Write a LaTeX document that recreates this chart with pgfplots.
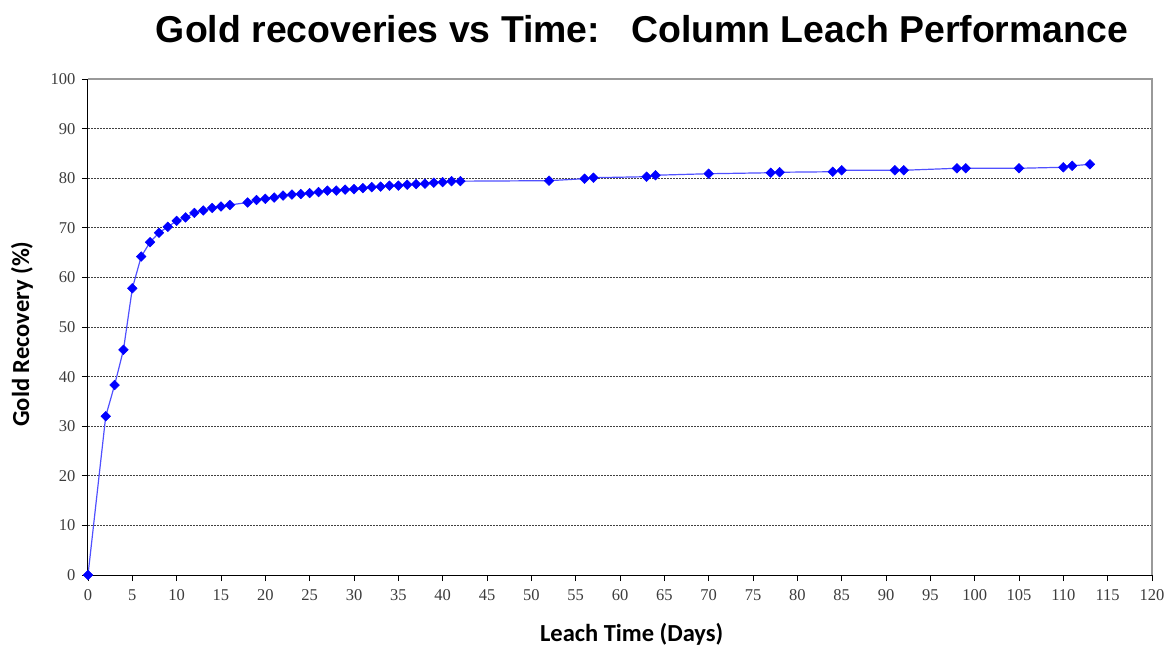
\documentclass[border=0pt]{standalone}
\usepackage{pgfplots}
\pgfplotsset{compat=1.18}
\usepackage{fontspec}
\setmainfont{Liberation Sans}
\newfontfamily\tickfont{Liberation Serif}
\newfontfamily\labfont{Carlito}
\definecolor{ptblue}{RGB}{0,0,255}
\definecolor{lineblue}{RGB}{80,80,255}
\definecolor{tickgray}{RGB}{60,60,60}
\begin{document}
\begin{tikzpicture}[x=1pt,y=1pt]
\path[use as bounding box] (-88,-71) rectangle (1081,575);
\begin{axis}[
  at={(0,0)}, anchor=south west,
  scale only axis,
  width=1064pt, height=496pt,
  xmin=0, xmax=120, ymin=0, ymax=100,
  xtick={0,5,...,120}, ytick={0,10,...,100},
  extra y ticks={10,20,...,90},
  extra y tick labels={},
  extra y tick style={grid=major, major tick length=0pt},
  axis x line*=bottom, axis y line*=left,
  axis line style={black, line width=1pt, -},
  tick align=outside,
  major tick length=6pt,
  tick style={black, line width=0.8pt},
  grid style={black!75, dash pattern=on 2pt off 1pt, line width=0.9pt},
  /pgf/number format/assume math mode=true,
  ticklabel style={font=\tickfont\fontsize{16.5}{16.5}\selectfont, text=tickgray},
  xticklabel style={yshift=-5pt},
  yticklabel style={xshift=-3pt},
  xlabel={\labfont\bfseries Leach Time (Days)},
  ylabel={\labfont\bfseries Gold Recovery (\%)},
  label style={font=\fontsize{24.5}{24.5}\selectfont},
  xlabel style={at={(rel axis cs:0.511,0)}, anchor=center, yshift=-59pt},
  ylabel style={at={(rel axis cs:0,0.5)}, anchor=center, yshift=66pt, xshift=-7pt},
  clip=false,
]
\addplot[color=lineblue, line width=1.2pt, mark=square*, mark size=3.4pt,
  mark options={fill=ptblue, draw=ptblue, line width=0.5pt, rotate=45}] coordinates {
(0,0) (2,32.0) (3,38.3) (4,45.4) (5,57.8) (6,64.2) (7,67.1) (8,69.0) (9,70.2)
(10,71.4) (11,72.1) (12,73.0) (13,73.5) (14,74.0) (15,74.3) (16,74.6) (18,75.1)
(19,75.6) (20,75.85) (21,76.1) (22,76.5) (23,76.7) (24,76.8) (25,77.0) (26,77.2)
(27,77.5) (28,77.5) (29,77.7) (30,77.8) (31,78.0) (32,78.2) (33,78.3) (34,78.5)
(35,78.5) (36,78.7) (37,78.8) (38,78.9) (39,79.1) (40,79.2) (41,79.4) (42,79.4)
(52,79.5) (56,79.9) (57,80.1) (63,80.3) (64,80.6) (70,80.9) (77,81.1) (78,81.2)
(84,81.3) (85,81.6) (91,81.6) (92,81.6) (98,82.0) (99,82.0) (105,82.0)
(110,82.2) (111,82.5) (113,82.8)
};
\draw[black!40, line width=1.2pt] (rel axis cs:0,1) -- (rel axis cs:1,1) -- (rel axis cs:1,0);
\end{axis}
\node[font=\bfseries\fontsize{37.4}{37.4}\selectfont, anchor=center] at (554,546) {Gold recoveries vs Time:\ \ \ Column Leach Performance};
\end{tikzpicture}
\end{document}
